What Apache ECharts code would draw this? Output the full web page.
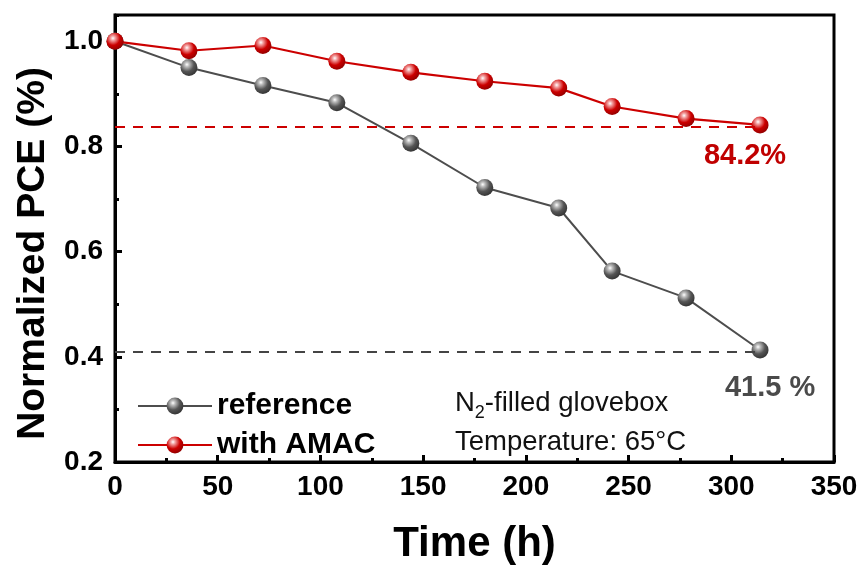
<!DOCTYPE html>
<html>
<head>
<meta charset="utf-8">
<script src="https://cdn.jsdelivr.net/npm/echarts@6/dist/echarts.min.js"></script>
<style>html,body{margin:0;padding:0;background:#fff;}#c{width:865px;height:570px;}</style>
</head>
<body>
<div id="c"></div>
<script>
// ---- data ----
const timeH = [0, 36, 72, 108, 144, 180, 216, 242, 278, 314];
const refPCE = [1.0, 0.950, 0.916, 0.883, 0.806, 0.722, 0.683, 0.563, 0.512, 0.413];
const amacPCE = [1.0, 0.982, 0.992, 0.962, 0.941, 0.924, 0.911, 0.876, 0.853, 0.841];
const refFinalLabel = '41.5 %';
const amacFinalLabel = '84.2%';
const refDashLevel = 0.41;
const amacDashLevel = 0.838;
const seriesNames = ['reference', 'with AMAC'];
const annotLine1 = ['N', '2', '-filled glovebox'];
const annotLine2 = 'Temperature: 65°C';
const xTitle = 'Time (h)';
const yTitle = 'Normalized PCE (%)';

const FONT = '"Liberation Sans", Arial, Helvetica, sans-serif';
const RED = '#cc0000';
const GRAY = '#4d4d4d';
const ANN_FS = 27.5, SUB_FS = 18;

function textWidth(txt, fs) {
  const ctx = document.createElement('canvas').getContext('2d');
  ctx.font = fs + 'px ' + FONT;
  return ctx.measureText(txt).width;
}

function sphere(base, dark, hi) {
  return {
    type: 'radial', x: 0.38, y: 0.32, r: 0.75,
    colorStops: [
      { offset: 0, color: '#ffffff' },
      { offset: 0.18, color: hi },
      { offset: 0.55, color: base },
      { offset: 1, color: dark }
    ]
  };
}

function makeData(vals, labelText, labelColor, offset) {
  return timeH.map((t, i) => {
    const d = { value: [t, vals[i]] };
    if (i === vals.length - 1) {
      d.label = {
        show: true, formatter: labelText, position: 'inside', offset: offset,
        color: labelColor, fontSize: 29, fontWeight: 'bold', fontFamily: FONT
      };
    }
    return d;
  });
}

const annX = 455, line1Y = 403, line2Y = 442;
const wN = textWidth(annotLine1[0], ANN_FS);
const wSub = textWidth(annotLine1[1], SUB_FS);

const chart = echarts.init(document.getElementById('c'), null, { renderer: 'canvas' });
const option = {
  animation: false,
  backgroundColor: '#fff',
  grid: { left: 115, right: 31, top: 15, bottom: 107, show: true, borderColor: '#000', borderWidth: 3, backgroundColor: 'transparent' },
  legend: {
    orient: 'vertical', left: 132, top: 386, itemWidth: 74, itemHeight: 21, itemGap: 9,
    data: seriesNames,
    textStyle: { fontSize: 30, fontWeight: 'bold', fontFamily: FONT, color: '#000', lineHeight: 30 }
  },
  xAxis: [{
    type: 'value', min: 0, max: 350, interval: 50,
    name: xTitle, nameLocation: 'middle', nameGap: 61,
    nameTextStyle: { fontSize: 42, fontWeight: 'bold', fontFamily: FONT, color: '#000' },
    axisLine: { show: true, lineStyle: { color: '#000', width: 3 } },
    axisTick: { show: true, inside: true, length: 7, lineStyle: { color: '#000', width: 3 } },
    minorTick: { show: true, splitNumber: 2, length: 4, lineStyle: { color: '#000', width: 3 } },
    axisLabel: { fontSize: 28, fontWeight: 'bold', fontFamily: FONT, color: '#000', margin: 11 },
    splitLine: { show: false }
  }],
  yAxis: [{
    type: 'value', min: 0.2, max: 1.05, interval: 0.2,
    name: yTitle, nameLocation: 'middle', nameGap: 62,
    nameTextStyle: { fontSize: 39, fontWeight: 'bold', fontFamily: FONT, color: '#000', padding: [0, 30, 0, 0] },
    axisLine: { show: true, lineStyle: { color: '#000', width: 3 } },
    axisTick: { show: true, inside: true, length: 7, lineStyle: { color: '#000', width: 3 } },
    axisLabel: {
      fontSize: 28, fontWeight: 'bold', fontFamily: FONT, color: '#000', margin: 12,
      showMaxLabel: false,
      formatter: v => (Math.abs(v * 5 - Math.round(v * 5)) < 1e-6 ? v.toFixed(1) : '')
    },
    splitLine: { show: false }
  }, {
    type: 'value', min: 0.2, max: 1.05, interval: 0.1, position: 'left',
    axisLine: { show: false },
    axisTick: { show: true, inside: true, length: 4, lineStyle: { color: '#000', width: 3 } },
    axisLabel: { show: false },
    splitLine: { show: false }
  }],
  series: [{
    name: seriesNames[0], type: 'line', yAxisIndex: 0,
    data: makeData(refPCE, refFinalLabel, '#4a4a4a', [10, 38]),
    symbol: 'circle', symbolSize: 17,
    lineStyle: { color: GRAY, width: 2 },
    itemStyle: { color: sphere('#555555', '#2e2e2e', '#bdbdbd') },
    emphasis: { disabled: true },
    z: 3,
    markLine: {
      silent: true, symbol: ['none', 'none'], label: { show: false },
      lineStyle: { color: '#444', type: [10, 8], width: 2 },
      data: [[{ coord: [0, refDashLevel] }, { coord: [timeH[timeH.length - 1], refDashLevel] }]]
    }
  }, {
    name: seriesNames[1], type: 'line', yAxisIndex: 0,
    data: makeData(amacPCE, amacFinalLabel, '#c00000', [-15, 31]),
    symbol: 'circle', symbolSize: 17,
    lineStyle: { color: RED, width: 2.2 },
    itemStyle: { color: sphere('#cc0000', '#880000', '#f2a0a0') },
    emphasis: { disabled: true },
    z: 4,
    markLine: {
      silent: true, symbol: ['none', 'none'], label: { show: false },
      lineStyle: { color: RED, type: [10, 8], width: 2 },
      data: [[{ coord: [0, amacDashLevel] }, { coord: [timeH[timeH.length - 1], amacDashLevel] }]]
    }
  }],
  graphic: [{
    type: 'text', x: annX, y: line1Y,
    style: { text: annotLine1[0], fontSize: ANN_FS, fontFamily: FONT, fill: '#111', align: 'left', verticalAlign: 'middle' }
  }, {
    type: 'text', x: annX + wN, y: line1Y + 10,
    style: { text: annotLine1[1], fontSize: SUB_FS, fontFamily: FONT, fill: '#111', align: 'left', verticalAlign: 'middle' }
  }, {
    type: 'text', x: annX + wN + wSub, y: line1Y,
    style: { text: annotLine1[2], fontSize: ANN_FS, fontFamily: FONT, fill: '#111', align: 'left', verticalAlign: 'middle' }
  }, {
    type: 'text', x: annX, y: line2Y,
    style: { text: annotLine2, fontSize: ANN_FS, fontFamily: FONT, fill: '#111', align: 'left', verticalAlign: 'middle' }
  }]
};
chart.setOption(option);
</script>
</body>
</html>
